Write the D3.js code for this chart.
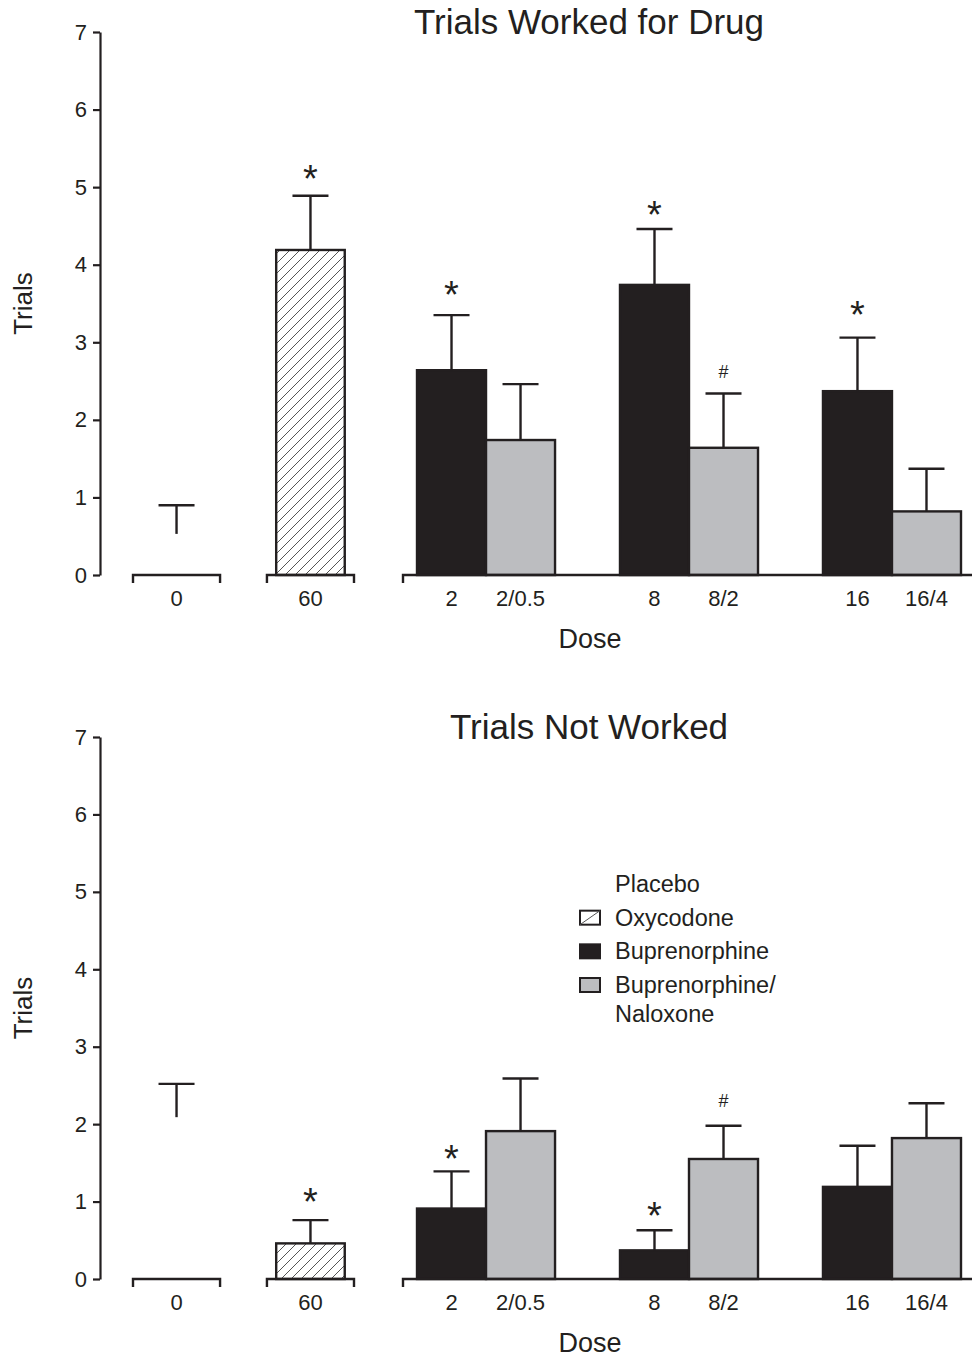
<!DOCTYPE html>
<html>
<head>
<meta charset="utf-8">
<script src="https://cdn.jsdelivr.net/npm/d3@7"></script>
<style>
  html, body { margin: 0; padding: 0; background: #ffffff; }
  svg { display: block; font-family: "Liberation Sans", Arial, Helvetica, sans-serif; }
</style>
</head>
<body>
<svg id="chart" width="972" height="1359"></svg>
<script>
// ---------------- data ----------------
const doseLabels   = ["0", "60", "2", "2/0.5", "8", "8/2", "16", "16/4"];
const doseGroups   = ["0", "60", "2", "2", "8", "8", "16", "16"];
const drugs        = ["Placebo", "Oxycodone", "Buprenorphine", "Buprenorphine/Naloxone",
                      "Buprenorphine", "Buprenorphine/Naloxone", "Buprenorphine", "Buprenorphine/Naloxone"];
const controlGroups = ["0", "60"];
const activeGroups  = ["2", "8", "16"];

const workedMean    = [0.53, 4.19, 2.64, 1.74, 3.74, 1.64, 2.37, 0.82];
const workedSEM     = [0.37, 0.70, 0.71, 0.72, 0.72, 0.70, 0.69, 0.55];
const workedMarks   = ["", "*", "*", "", "*", "#", "*", ""];
const workedMarkAt  = [null, 5.22, 3.73, null, 4.76, 2.62, 3.47, null];

const notWorkedMean   = [2.09, 0.46, 0.91, 1.91, 0.37, 1.55, 1.19, 1.82];
const notWorkedSEM    = [0.43, 0.30, 0.48, 0.68, 0.26, 0.43, 0.53, 0.45];
const notWorkedMarks  = ["", "*", "*", "", "*", "#", "", ""];
const notWorkedMarkAt = [null, 1.11, 1.67, null, 0.93, 2.31, null, null];

const yTicks = [0, 1, 2, 3, 4, 5, 6, 7];
const legendLabels = ["Placebo", "Oxycodone", "Buprenorphine", "Buprenorphine/\nNaloxone"];
const legendKeys   = ["Placebo", "Oxycodone", "Buprenorphine", "Buprenorphine/Naloxone"];

const titles = ["Trials Worked for Drug", "Trials Not Worked"];
const yTitle = "Trials";
const xTitle = "Dose";

// ---------------- styles ----------------
const INK = "#231f20";
const fillFor = {
  "Placebo": "none",
  "Oxycodone": "url(#hatch)",
  "Buprenorphine": "#231f20",
  "Buprenorphine/Naloxone": "#bcbdc0"
};
const strokeFor = {
  "Placebo": "none",
  "Oxycodone": INK,
  "Buprenorphine": INK,
  "Buprenorphine/Naloxone": INK
};

const svg = d3.select("#chart");
svg.append("rect").attr("width", 972).attr("height", 1359).attr("fill", "#fff");

const defs = svg.append("defs");
const pat = defs.append("pattern")
  .attr("id", "hatch").attr("patternUnits", "userSpaceOnUse")
  .attr("width", 10).attr("height", 10);
pat.append("rect").attr("width", 10).attr("height", 10).attr("fill", "#fff");
pat.append("path")
  .attr("d", "M-2,2 L2,-2 M0,10 L10,0 M8,12 L12,8")
  .attr("stroke", "#555").attr("stroke-width", 1);

// ---------------- x scales (shared) ----------------
const xCtrl = d3.scaleBand().domain(controlGroups).range([133, 354])
  .paddingInner(0.35).paddingOuter(0);
const xCtrlBar = d3.scaleBand().domain(["bar"]).range([0, xCtrl.bandwidth()])
  .paddingOuter(0.135);
const xAct = d3.scaleBand().domain(activeGroups).range([403, 975])
  .paddingInner(0.32).paddingOuter(0.069);
const xActBar = d3.scaleBand().domain(["Buprenorphine", "Buprenorphine/Naloxone"])
  .range([0, xAct.bandwidth()]).padding(0);

function barX(i) {
  const g = doseGroups[i];
  if (controlGroups.includes(g)) return xCtrl(g) + xCtrlBar("bar");
  return xAct(g) + xActBar(drugs[i]);
}
function barW(i) {
  return controlGroups.includes(doseGroups[i]) ? xCtrlBar.bandwidth() : xActBar.bandwidth();
}
function barC(i) { return barX(i) + barW(i) / 2; }

// ---------------- panel ----------------
function drawPanel(yRange, title, means, sems, marks, markAt, withLegend) {
  const y = d3.scaleLinear().domain([0, 7]).range(yRange);
  const g = svg.append("g");
  const y0 = y(0), y7 = y(7);

  // title
  g.append("text").attr("x", 589).attr("y", y7 + 2)
    .attr("text-anchor", "middle").attr("font-size", 35).attr("fill", INK)
    .text(title);

  // y axis
  const ax = g.append("g").attr("transform", "translate(100,0)")
    .call(d3.axisLeft(y).tickValues(yTicks).tickFormat(d3.format("d"))
      .tickSize(7).tickSizeOuter(0).tickPadding(6));
  ax.select(".domain").attr("stroke", INK).attr("stroke-width", 2.2);
  ax.selectAll(".tick line").attr("stroke", INK).attr("stroke-width", 2.2);
  ax.selectAll(".tick text").attr("font-size", 22).attr("fill", INK)
    .attr("font-family", "Liberation Sans, Arial, sans-serif");

  g.append("text")
    .attr("transform", `translate(32,${(y0 + y7) / 2}) rotate(-90)`)
    .attr("text-anchor", "middle").attr("font-size", 26).attr("fill", INK)
    .text(yTitle);

  // bars
  const idx = d3.range(means.length);
  g.selectAll("rect.bar").data(idx).join("rect").attr("class", "bar")
    .attr("x", i => barX(i)).attr("width", i => barW(i))
    .attr("y", i => y(means[i])).attr("height", i => y0 - y(means[i]))
    .attr("fill", i => fillFor[drugs[i]])
    .attr("stroke", i => strokeFor[drugs[i]])
    .attr("stroke-width", 2.4);

  // error bars
  const capHalf = 18;
  g.selectAll("line.err").data(idx).join("line").attr("class", "err")
    .attr("x1", i => barC(i)).attr("x2", i => barC(i))
    .attr("y1", i => y(means[i])).attr("y2", i => y(means[i] + sems[i]))
    .attr("stroke", INK).attr("stroke-width", 2.4);
  g.selectAll("line.cap").data(idx).join("line").attr("class", "cap")
    .attr("x1", i => barC(i) - capHalf).attr("x2", i => barC(i) + capHalf)
    .attr("y1", i => y(means[i] + sems[i])).attr("y2", i => y(means[i] + sems[i]))
    .attr("stroke", INK).attr("stroke-width", 2.4);

  // significance markers
  const mIdx = idx.filter(i => marks[i]);
  g.selectAll("text.mark").data(mIdx).join("text").attr("class", "mark")
    .attr("x", i => barC(i))
    .attr("y", i => y(markAt[i]) + (marks[i] === "*" ? 22 : 6.5))
    .attr("text-anchor", "middle")
    .attr("font-size", i => marks[i] === "*" ? 38 : 18)
    .attr("fill", INK)
    .text(i => marks[i]);

  // x axis segments
  const segs = controlGroups.map(k => [xCtrl(k), xCtrl(k) + xCtrl.bandwidth()])
    .concat([xAct.range()]);
  const segPath = d => `M${d[0]},${y0 + 8}V${y0}H${d[1]}V${y0 + 8}`;
  g.selectAll("path.seg").data(segs).join("path").attr("class", "seg")
    .attr("d", segPath).attr("fill", "none")
    .attr("stroke", INK).attr("stroke-width", 2.4);

  // x tick labels
  g.selectAll("text.xl").data(idx).join("text").attr("class", "xl")
    .attr("x", i => controlGroups.includes(doseGroups[i])
      ? xCtrl(doseGroups[i]) + xCtrl.bandwidth() / 2 : barC(i))
    .attr("y", y0 + 31)
    .attr("text-anchor", "middle").attr("font-size", 22).attr("fill", INK)
    .text(i => doseLabels[i]);

  g.append("text").attr("x", 590).attr("y", y0 + 73)
    .attr("text-anchor", "middle").attr("font-size", 27).attr("fill", INK)
    .text(xTitle);

  if (withLegend) {
    const lg = g.append("g");
    const rowY = d3.scalePoint().domain(legendKeys).range([892, 993]);
    legendKeys.forEach((k, j) => {
      const by = rowY(k);
      if (k !== "Placebo") {
        lg.append("rect").attr("x", 580).attr("y", by - 15).attr("width", 20).attr("height", 14)
          .attr("fill", k === "Oxycodone" ? "#fff" : fillFor[k])
          .attr("stroke", INK).attr("stroke-width", 2);
        if (k === "Oxycodone") {
          lg.append("line").attr("x1", 580).attr("y1", by - 1).attr("x2", 600).attr("y2", by - 15)
            .attr("stroke", "#555").attr("stroke-width", 1);
        }
      }
      const lines = legendLabels[j].split("\n");
      const t = lg.append("text").attr("x", 615).attr("y", by)
        .attr("font-size", 23.5).attr("fill", INK);
      lines.forEach((s, li) => {
        t.append("tspan").attr("x", 615).attr("dy", li === 0 ? 0 : 28.5).text(s);
      });
    });
  }
}

drawPanel([575, 32], titles[0], workedMean, workedSEM, workedMarks, workedMarkAt, false);
drawPanel([1279, 737], titles[1], notWorkedMean, notWorkedSEM, notWorkedMarks, notWorkedMarkAt, true);
</script>
</body>
</html>
